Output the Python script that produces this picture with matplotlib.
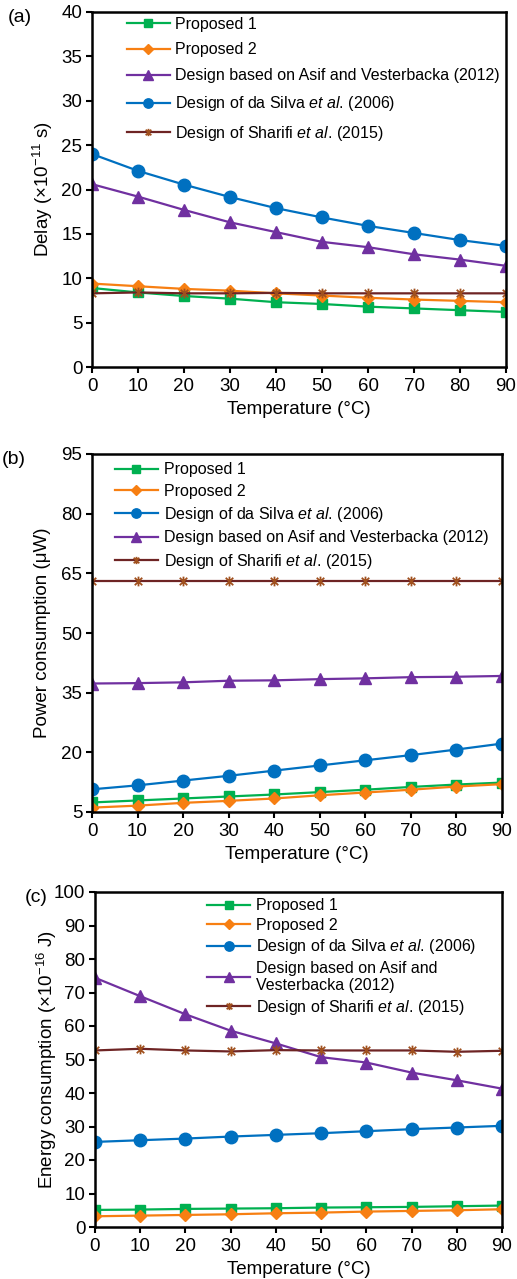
import matplotlib
matplotlib.use("Agg")
import matplotlib.pyplot as plt
from matplotlib.path import Path

plt.rcParams['font.family'] = ['Liberation Sans', 'DejaVu Sans']
plt.rcParams['mathtext.fontset'] = 'custom'
plt.rcParams['mathtext.rm'] = 'Liberation Sans'
plt.rcParams['mathtext.it'] = 'Liberation Sans:italic'
plt.rcParams['font.size'] = 12

temps = [0, 10, 20, 30, 40, 50, 60, 70, 80, 90]

# (a) delay, x1e-11 s
delay_p1 = [8.9, 8.4, 8.0, 7.7, 7.3, 7.1, 6.8, 6.6, 6.4, 6.2]
delay_p2 = [9.4, 9.1, 8.8, 8.6, 8.3, 8.05, 7.8, 7.6, 7.45, 7.3]
delay_asif = [20.6, 19.2, 17.7, 16.3, 15.2, 14.1, 13.5, 12.7, 12.1, 11.4]
delay_silva = [24.0, 22.1, 20.55, 19.15, 17.9, 16.85, 15.9, 15.1, 14.3, 13.65]
delay_sharifi = [8.3, 8.4, 8.3, 8.3, 8.35, 8.3, 8.3, 8.3, 8.3, 8.3]

# (b) power, uW
power_p1 = [7.4, 7.9, 8.4, 8.9, 9.4, 10.0, 10.6, 11.3, 11.9, 12.4]
power_p2 = [6.1, 6.6, 7.3, 7.8, 8.4, 9.2, 9.9, 10.6, 11.4, 12.0]
power_silva = [10.7, 11.7, 12.9, 14.1, 15.4, 16.7, 18.0, 19.3, 20.7, 22.2]
power_asif = [37.3, 37.4, 37.6, 38.0, 38.1, 38.4, 38.6, 38.9, 39.0, 39.2]
power_sharifi = [63.0, 63.0, 63.0, 63.0, 63.0, 63.0, 63.0, 63.0, 63.0, 63.0]

# (c) energy, x1e-16 J
energy_p1 = [5.1, 5.2, 5.4, 5.5, 5.6, 5.8, 5.9, 6.0, 6.2, 6.4]
energy_p2 = [3.2, 3.4, 3.6, 3.8, 4.1, 4.3, 4.6, 4.8, 5.0, 5.3]
energy_silva = [25.4, 25.9, 26.4, 27.0, 27.5, 28.0, 28.6, 29.2, 29.7, 30.2]
energy_asif = [74.4, 68.9, 63.5, 58.6, 54.8, 50.7, 49.1, 46.1, 43.8, 41.3]
energy_sharifi = [52.7, 53.2, 52.7, 52.4, 52.8, 52.7, 52.7, 52.7, 52.3, 52.6]

lbl_p1 = "Proposed 1"
lbl_p2 = "Proposed 2"
lbl_asif = "Design based on Asif and Vesterbacka (2012)"
lbl_asif_wrapped = "Design based on Asif and\nVesterbacka (2012)"
lbl_silva = r"Design of da Silva $\mathit{et\ al.}\,$(2006)"
lbl_sharifi = r"Design of Sharifi $\mathit{et\ al.}\,$(2015)"

# excel style asterisk: an x with a vertical bar
star = Path([(-1, -1), (1, 1), (-1, 1), (1, -1), (0, -1.3), (0, 1.3)],
            [Path.MOVETO, Path.LINETO, Path.MOVETO, Path.LINETO, Path.MOVETO, Path.LINETO])

styles = {
    "p1": dict(color="#00b050", marker="s", ms=7.5),
    "p2": dict(color="#f77f12", marker="D", ms=6.5),
    "asif": dict(color="#7030a0", marker="^", ms=9),
    "silva": dict(color="#0070c0", marker="o", ms=9),
    "sharifi": dict(color="#6e2424", marker=star, ms=7, mec="#a0501e", mew=1.3),
}

W, H = 517, 1279
fig = plt.figure(figsize=(W / 100, H / 100), dpi=100)


def make_ax(left, right, top, bottom):
    return fig.add_axes([left / W, (H - bottom) / H, (right - left) / W, (bottom - top) / H])


def draw(ax, series, ylim, yticks, ylabel, ylabel_x, legend_anchor, spacing):
    for key, vals, lbl in series:
        st = dict(styles[key])
        ax.plot(temps, vals, lw=1.6, label=lbl, **st)
    ax.set_xlim(0, 90)
    ax.set_ylim(*ylim)
    ax.set_xticks(temps)
    ax.set_yticks(yticks)
    for s in ax.spines.values():
        s.set_linewidth(1.8)
    ax.tick_params(direction="out", length=4, width=1.5, labelsize=13.5)
    ax.tick_params(axis="x", pad=4)
    ax.tick_params(axis="y", pad=3)
    ax.set_xlabel("Temperature (°C)", fontsize=13.5, labelpad=4)
    ax.set_ylabel(ylabel, fontsize=13.5, va="center")
    ax.yaxis.set_label_coords(ylabel_x, 0.5)
    ax.legend(loc="upper left", bbox_to_anchor=legend_anchor, frameon=False,
              handlelength=2.7, handletextpad=0.35, labelspacing=spacing,
              markerscale=0.75, fontsize=11.5, borderaxespad=0)


ax_a = make_ax(92, 506, 12, 367)
draw(ax_a,
     [("p1", delay_p1, lbl_p1), ("p2", delay_p2, lbl_p2), ("asif", delay_asif, lbl_asif),
      ("silva", delay_silva, lbl_silva), ("sharifi", delay_sharifi, lbl_sharifi)],
     (0, 40), range(0, 41, 5), r"Delay (×10$^{-11}$ s)", (43 - 92) / 414,
     (0.068, 1.005), 0.68)
fig.text(20 / W, 1 - 17 / H, "(a)", fontsize=14, ha="center", va="center")

ax_b = make_ax(92, 502, 454, 812)
draw(ax_b,
     [("p1", power_p1, lbl_p1), ("p2", power_p2, lbl_p2), ("silva", power_silva, lbl_silva),
      ("asif", power_asif, lbl_asif), ("sharifi", power_sharifi, lbl_sharifi)],
     (5, 95), range(5, 96, 15), "Power consumption (μW)", (43 - 92) / 410,
     (0.04, 0.995), 0.4)
fig.text(14 / W, 1 - 459 / H, "(b)", fontsize=14, ha="center", va="center")

ax_c = make_ax(95, 502, 892, 1227)
draw(ax_c,
     [("p1", energy_p1, lbl_p1), ("p2", energy_p2, lbl_p2), ("silva", energy_silva, lbl_silva),
      ("asif", energy_asif, lbl_asif_wrapped), ("sharifi", energy_sharifi, lbl_sharifi)],
     (0, 100), range(0, 101, 10), r"Energy consumption (×10$^{-16}$ J)", (47 - 95) / 407,
     (0.26, 1.0), 0.28)
fig.text(36 / W, 1 - 898 / H, "(c)", fontsize=14, ha="center", va="center")

fig.savefig("out.png", dpi=100)
